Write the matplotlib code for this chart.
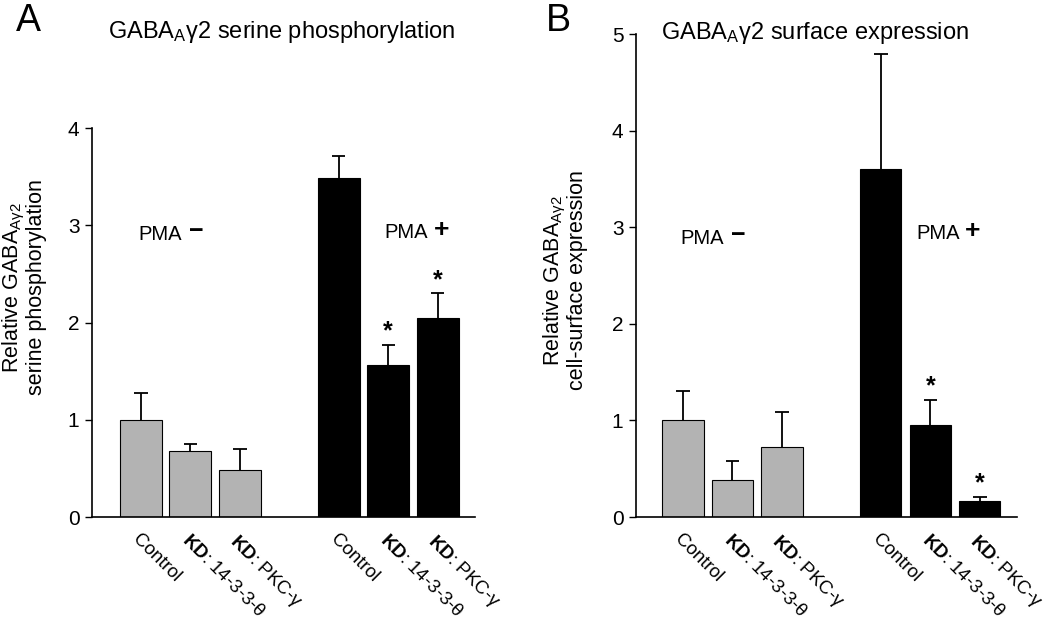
import numpy as np
import matplotlib
matplotlib.use('Agg')
import matplotlib.pyplot as plt

plt.rcParams['font.family'] = ['Liberation Sans', 'DejaVu Sans']
plt.rcParams['mathtext.fontset'] = 'custom'
plt.rcParams['mathtext.rm'] = 'Liberation Sans'
plt.rcParams['mathtext.bf'] = 'Liberation Sans:bold'
plt.rcParams['mathtext.it'] = 'Liberation Sans:italic'

# ── Data ─────────────────────────────────────────────────────────────────────
categories = ['Control', r'$\mathbf{KD}$: 14-3-3-θ', r'$\mathbf{KD}$: PKC-γ',
              'Control', r'$\mathbf{KD}$: 14-3-3-θ', r'$\mathbf{KD}$: PKC-γ']
positions = [0, 1, 2, 4, 5, 6]

phos_mean = [1.00, 0.68, 0.48, 3.49, 1.56, 2.05]
phos_err  = [0.27, 0.07, 0.22, 0.22, 0.21, 0.25]
phos_sig  = [False, False, False, False, True, True]

surf_mean = [1.00, 0.38, 0.72, 3.60, 0.95, 0.17]
surf_err  = [0.30, 0.20, 0.37, 1.19, 0.26, 0.04]
surf_sig  = [False, False, False, False, True, True]

bar_colors = ['#b3b3b3'] * 3 + ['#000000'] * 3

fig = plt.figure(figsize=(10.5, 6.22), dpi=100)
axA = fig.add_axes([0.0876, 0.1688, 0.365, 0.6254])
axB = fig.add_axes([0.6057, 0.1688, 0.3629, 0.7765])


def draw(ax, means, errs, sig, ylim, ticks, width, xlim):
    ax.bar(positions, means, width=width, color=bar_colors,
           edgecolor='black', linewidth=0.8, zorder=2)
    tops = np.array(means) + np.array(errs)
    ax.vlines(positions, means, tops, color='black', lw=1.3, zorder=1)
    ax.hlines(tops, np.array(positions) - 0.135, np.array(positions) + 0.135,
              color='black', lw=1.3, zorder=1)
    for p, t, s in zip(positions, tops, sig):
        if s:
            ax.annotate('*', (p, t), xytext=(0, 1), textcoords='offset points',
                        ha='center', va='bottom', fontsize=18, fontweight='bold')
    ax.set_ylim(*ylim)
    ax.set_xlim(*xlim)
    ax.set_yticks(ticks)
    ax.tick_params(axis='y', direction='out', length=5, width=1, labelsize=15, pad=4)
    ax.set_xticks(positions)
    ax.set_xticklabels(categories, rotation=-45, ha='left', va='top',
                       rotation_mode='anchor', fontsize=13.5)
    ax.tick_params(axis='x', length=0, pad=10)
    for sp in ['top', 'right']:
        ax.spines[sp].set_visible(False)
    for sp in ['left', 'bottom']:
        ax.spines[sp].set_linewidth(1.2)


draw(axA, phos_mean, phos_err, phos_sig, (0, 4), [0, 1, 2, 3, 4], 0.85, (-0.99, 6.76))
draw(axB, surf_mean, surf_err, surf_sig, (0, 5), [0, 1, 2, 3, 4, 5], 0.83, (-0.95, 6.75))

# PMA labels
for ax, ym, yp, xs in [(axA, 2.90, 2.93, (0.385, 1.12, 5.37, 6.09)),
                       (axB, 2.88, 2.94, (0.38, 1.12, 5.15, 5.86))]:
    ax.text(xs[0], ym, 'PMA', ha='center', va='center', fontsize=14.5)
    ax.text(xs[1], ym + 0.04, '−', ha='center', va='center', fontsize=18, fontweight='bold')
    ax.text(xs[2], yp, 'PMA', ha='center', va='center', fontsize=14.5)
    ax.text(xs[3], yp + 0.02, '+', ha='center', va='center', fontsize=19, fontweight='bold')

axA.set_ylabel('Relative GABA$_\\mathregular{Aγ2}$\nserine phosphorylation', fontsize=15.5,
               linespacing=0.95)
axA.yaxis.set_label_coords(-0.118, 0.59)
axB.set_ylabel('Relative GABA$_\\mathregular{Aγ2}$\ncell-surface expression', fontsize=15.5,
               linespacing=0.95)
axB.yaxis.set_label_coords(-0.126, 0.49)

fig.text(108 / 1050, 1 - 32 / 622, 'GABA$_\\mathregular{A}$γ2 serine phosphorylation',
         fontsize=17, ha='left', va='center')
fig.text(661 / 1050, 1 - 33 / 622, 'GABA$_\\mathregular{A}$γ2 surface expression',
         fontsize=17, ha='left', va='center')
fig.text(16 / 1050, 1 - 21 / 622, 'A', fontsize=27, ha='left', va='center')
fig.text(546 / 1050, 1 - 21 / 622, 'B', fontsize=27, ha='left', va='center')

fig.savefig('out.png', dpi=100, facecolor='white')
